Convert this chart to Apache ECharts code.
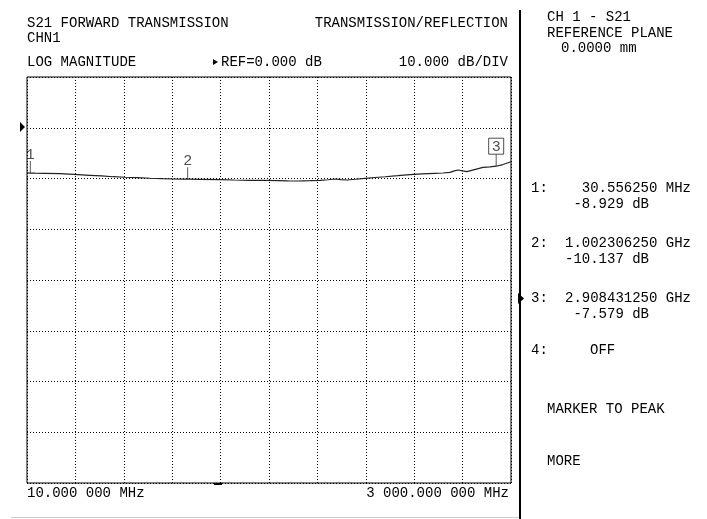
<!DOCTYPE html>
<html><head><meta charset="utf-8">
<script src="https://cdn.jsdelivr.net/npm/echarts@6/dist/echarts.min.js"></script>
<style>html,body{margin:0;padding:0;background:#fff}#c{width:707px;height:519px}</style>
</head><body><div id="c"></div>
<script>
// ---- data ----
const freqMHz = [10, 30.6, 60, 120, 214, 300, 399, 470, 541, 615, 690, 770, 844, 910, 974, 1002, 1080, 1202, 1290, 1388, 1480, 1560, 1620, 1678, 1720, 1758, 1820, 1870, 1913, 1950, 1987, 2040, 2098, 2160, 2222, 2300, 2376, 2450, 2530, 2580, 2623, 2650, 2673, 2700, 2728, 2780, 2827, 2870, 2908, 2950, 3000];
const traceDb = [-8.90, -8.93, -8.95, -8.98, -9.05, -9.20, -9.37, -9.50, -9.65, -9.75, -9.84, -9.95, -10.04, -10.10, -10.13, -10.14, -10.18, -10.24, -10.30, -10.35, -10.38, -10.42, -10.47, -10.49, -10.45, -10.43, -10.35, -10.25, -10.10, -10.22, -10.30, -10.15, -9.96, -9.80, -9.65, -9.45, -9.25, -9.10, -8.98, -8.92, -8.80, -8.50, -8.33, -8.50, -8.66, -8.20, -7.80, -7.70, -7.58, -7.25, -6.70];
const markerNames = ['1', '2', '3'];
const markerFreqMHz = [30.55625, 1002.30625, 2908.43125];
const markerDb = [-8.929, -10.137, -7.579];
const markerFreqText = ['30.556250 MHz', '1.002306250 GHz', '2.908431250 GHz'];
const markerDbText = ['-8.929 dB', '-10.137 dB', '-7.579 dB'];
const startLabel = '10.000 000 MHz';
const stopLabel = '3 000.000 000 MHz';
const yMin = -70, yMax = 10, yStep = 10;
const xStart = 10, xStop = 3000;

const FONT = '14px "Liberation Mono"';
function txt(text, x, y, align) {
  return { type: 'text', silent: true, style: { text: text, x: x, y: y, font: FONT, fill: '#000', textAlign: align || 'left', textVerticalAlign: 'middle' } };
}
const tri = (pts) => ({ type: 'polygon', silent: true, shape: { points: pts }, style: { fill: '#000' } });

const chart = echarts.init(document.getElementById('c'), null, { renderer: 'canvas' });

const graphics = [
  txt('S21 FORWARD TRANSMISSION', 27, 23),
  txt('TRANSMISSION/REFLECTION', 508, 23, 'right'),
  txt('CHN1', 27, 38),
  txt('LOG MAGNITUDE', 27, 62),
  tri([[213, 59], [213, 65], [218, 62]]),
  txt('REF=0.000 dB', 221, 62),
  txt('10.000 dB/DIV', 508, 62, 'right'),
  txt('CH 1 - S21', 547, 17),
  txt('REFERENCE PLANE', 547, 33),
  txt('0.0000 mm', 561, 48),
  txt(startLabel, 27, 493),
  txt(stopLabel, 509, 493, 'right'),
  { type: 'rect', silent: true, shape: { x: 519, y: 10, width: 2, height: 509 }, style: { fill: '#000' } },
  { type: 'rect', silent: true, shape: { x: 11, y: 517, width: 508, height: 1 }, style: { fill: '#ccc' } },
  { type: 'rect', silent: true, shape: { x: 214, y: 483, width: 8, height: 2 }, style: { fill: '#000' } },
  tri([[20, 122], [20, 132], [25, 127]]),
  tri([[518, 293], [518, 304], [524, 298.5]]),
  txt('4:', 531, 350),
  txt('OFF', 590, 350),
  txt('MARKER TO PEAK', 547, 409),
  txt('MORE', 547, 461)
];
const rowY = [188, 243, 298];
for (let i = 0; i < markerNames.length; i++) {
  graphics.push(txt(markerNames[i] + ':', 531, rowY[i]));
  graphics.push(txt(markerFreqText[i], 691, rowY[i], 'right'));
  graphics.push(txt(markerDbText[i], 649, rowY[i] + 16, 'right'));
}

const dotted = { show: true, lineStyle: { color: '#000', width: 1, type: [1, 2] } };

chart.setOption({
  animation: false,
  backgroundColor: '#fff',
  grid: { left: 27, top: 77, width: 484, height: 406, show: true, borderColor: '#000', borderWidth: 1, backgroundColor: 'transparent' },
  xAxis: [
    { type: 'value', min: 0, max: 10, interval: 1, axisLine: { show: false }, axisTick: { show: false }, axisLabel: { show: false }, splitLine: dotted },
    { type: 'value', min: xStart, max: xStop, show: false, splitLine: { show: false } }
  ],
  yAxis: { type: 'value', min: yMin, max: yMax, interval: yStep, axisLine: { show: false }, axisTick: { show: false }, axisLabel: { show: false }, splitLine: dotted },
  graphic: graphics,
  series: [
    {
      type: 'line', xAxisIndex: 1, showSymbol: false, symbol: 'none',
      data: freqMHz.map((f, i) => [f, traceDb[i]]),
      lineStyle: { color: '#222', width: 1.2 }
    },
    {
      type: 'scatter', xAxisIndex: 1,
      symbol: 'rect', symbolSize: [1, 12], symbolOffset: [0, -6],
      itemStyle: { color: '#333' },
      label: { show: true, position: 'top', distance: 0, formatter: (p) => p.name, fontSize: 15, fontFamily: 'Liberation Mono', color: '#222', lineHeight: 13 },
      data: markerNames.map((n, i) => {
        const d = { name: n, value: [markerFreqMHz[i], markerDb[i]] };
        if (i === 2) d.label = { borderColor: '#222', borderWidth: 1, padding: [2, 3, 1, 3], distance: 0 };
        return d;
      })
    }
  ]
});
</script></body></html>
